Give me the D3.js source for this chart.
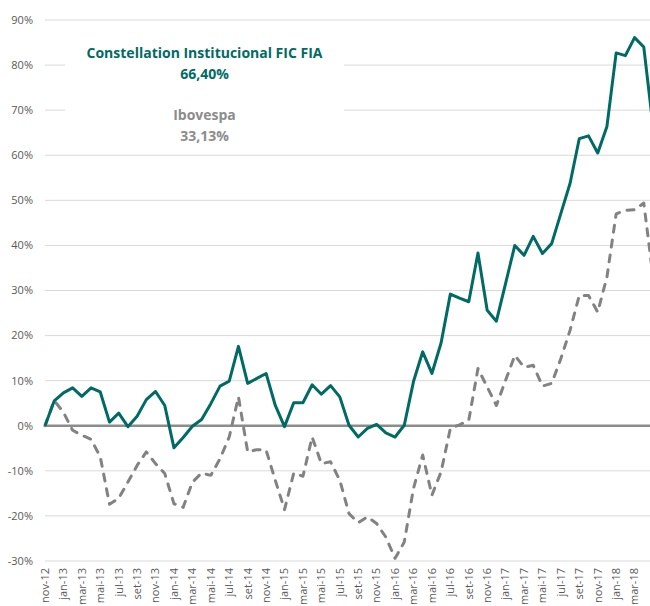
<!DOCTYPE html>
<html>
<head>
<meta charset="utf-8">
<script src="https://cdn.jsdelivr.net/npm/d3@7"></script>
<style>
  body { margin: 0; background: #fff; }
  svg { display: block; font-family: "Open Sans", "Liberation Sans", sans-serif; }
</style>
</head>
<body>
<div id="chart"></div>
<script>
// monthly categories nov-12 .. mai-18
var monthNames = ['jan', 'fev', 'mar', 'abr', 'mai', 'jun', 'jul', 'ago', 'set', 'out', 'nov', 'dez'];
var months = [];
for (var m = 10, yr = 12; !(yr === 18 && m === 5); m++) {
  if (m === 12) { m = 0; yr++; }
  months.push(monthNames[m] + '-' + yr);
}
months = months.slice(0, 67);

// cumulative return, %
var constellation = [
  0, 5.5, 7.3, 8.4, 6.5, 8.4, 7.5, 0.8, 2.8, -0.2,
  2.1, 5.8, 7.6, 4.5, -4.9, -2.6, -0.1, 1.4, 4.9, 8.8,
  9.9, 17.6, 9.4, 10.5, 11.6, 4.5, -0.2, 5.1, 5.1, 9.1,
  7.0, 8.9, 6.4, 0.1, -2.5, -0.6, 0.3, -1.6, -2.5, 0.1,
  9.8, 16.4, 11.6, 18.4, 29.2, 28.3, 27.5, 38.3, 25.6, 23.2,
  31.6, 40.0, 37.8, 42.0, 38.2, 40.4, 47.1, 53.8, 63.7, 64.3,
  60.5, 66.4, 82.7, 82.1, 86.1, 84.0, 66.4
];
var ibovespa = [
  0, 5.6, 3.0, -1.0, -2.1, -3.0, -6.9, -17.4, -16.1, -12.5,
  -8.8, -5.8, -8.4, -10.6, -17.3, -18.1, -12.5, -10.5, -11.0, -7.3,
  -2.5, 6.4, -5.8, -5.3, -5.4, -12.1, -18.6, -10.5, -11.2, -2.5,
  -8.4, -8.0, -12.1, -19.5, -21.5, -20.2, -21.7, -24.7, -29.4, -25.8,
  -13.9, -6.5, -15.4, -10.2, -0.6, 0.2, 1.2, 12.7, 8.6, 4.5,
  10.1, 15.6, 13.0, 13.4, 8.8, 9.4, 14.9, 21.2, 28.9, 28.9,
  25.2, 33.0, 47.0, 47.8, 47.9, 49.4, 33.13
];
var yTicks = [-30, -20, -10, 0, 10, 20, 30, 40, 50, 60, 70, 80, 90];

var W = 650, H = 606;
var svg = d3.select('#chart').append('svg').attr('width', W).attr('height', H);

var x = d3.scalePoint().domain(months).range([45, 653]);
var y = d3.scaleLinear().domain([-30, 90]).range([561, 20]);

// gridlines
svg.append('g').selectAll('line')
  .data(yTicks.filter(function (t) { return t !== 0; }))
  .enter().append('line')
  .attr('x1', 45).attr('x2', W)
  .attr('y1', function (d) { return y(d); })
  .attr('y2', function (d) { return y(d); })
  .attr('stroke', '#d9d9d9').attr('stroke-width', 1);

// white box behind the labels
svg.append('rect')
  .attr('x', 65).attr('y', 28).attr('width', 279).attr('height', 126)
  .attr('fill', '#fff');

// y axis labels
svg.append('g').selectAll('text')
  .data(yTicks).enter().append('text')
  .attr('x', 33).attr('y', function (d) { return y(d); })
  .attr('dy', '0.35em').attr('text-anchor', 'end')
  .attr('font-size', 11).attr('fill', '#595959')
  .text(function (d) { return d + '%'; });

// x axis labels, every other month, only those inside the frame
svg.append('g').selectAll('text')
  .data(months.filter(function (d, i) { return i % 2 === 0 && x(d) < W - 6; }))
  .enter().append('text')
  .attr('transform', function (d) { return 'translate(' + x(d) + ',568) rotate(-90)'; })
  .attr('dy', '0.35em').attr('text-anchor', 'end')
  .attr('font-size', 11).attr('fill', '#595959')
  .text(function (d) { return d; });

// zero line
svg.append('line')
  .attr('x1', 45).attr('x2', W).attr('y1', y(0)).attr('y2', y(0))
  .attr('stroke', '#8c8c8c').attr('stroke-width', 2.5);

var line = d3.line()
  .x(function (d, i) { return x(months[i]); })
  .y(function (d) { return y(d); });

svg.append('path').datum(ibovespa)
  .attr('d', line).attr('fill', 'none')
  .attr('stroke', '#828282').attr('stroke-width', 3)
  .attr('stroke-dasharray', '7,8').attr('stroke-linecap', 'round')
  .attr('stroke-linejoin', 'round');

svg.append('path').datum(constellation)
  .attr('d', line).attr('fill', 'none')
  .attr('stroke', '#006b64').attr('stroke-width', 3)
  .attr('stroke-linejoin', 'round');

// labels
var notes = [
  { t: 'Constellation Institucional FIC FIA', y: 58, c: '#006b64' },
  { t: '66,40%', y: 79, c: '#006b64' },
  { t: 'Ibovespa', y: 120, c: '#8c8c8c' },
  { t: '33,13%', y: 141, c: '#8c8c8c' }
];
svg.append('g').selectAll('text')
  .data(notes).enter().append('text')
  .attr('x', 204.5).attr('y', function (d) { return d.y; })
  .attr('text-anchor', 'middle').attr('font-size', 14).attr('font-weight', 'bold')
  .attr('fill', function (d) { return d.c; })
  .text(function (d) { return d.t; });
</script>
</body>
</html>
